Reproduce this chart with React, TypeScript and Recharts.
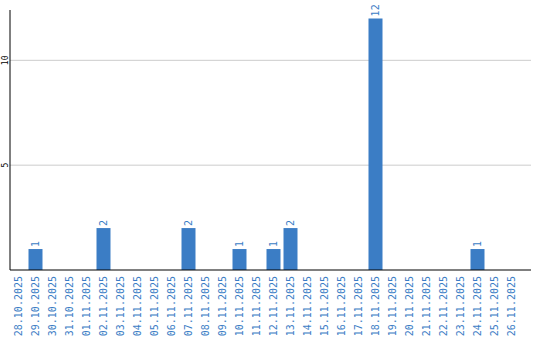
import { BarChart, Bar, XAxis, YAxis, CartesianGrid, LabelList } from 'recharts'

const DATES = [
  '28.10.2025', '29.10.2025', '30.10.2025', '31.10.2025', '01.11.2025',
  '02.11.2025', '03.11.2025', '04.11.2025', '05.11.2025', '06.11.2025',
  '07.11.2025', '08.11.2025', '09.11.2025', '10.11.2025', '11.11.2025',
  '12.11.2025', '13.11.2025', '14.11.2025', '15.11.2025', '16.11.2025',
  '17.11.2025', '18.11.2025', '19.11.2025', '20.11.2025', '21.11.2025',
  '22.11.2025', '23.11.2025', '24.11.2025', '25.11.2025', '26.11.2025',
]

const COUNTS = [
  0, 1, 0, 0, 0,
  2, 0, 0, 0, 0,
  2, 0, 0, 1, 0,
  1, 2, 0, 0, 0,
  0, 12, 0, 0, 0,
  0, 0, 1, 0, 0,
]

const Y_TICKS = [5, 10]

const BLUE = '#3b7dc5'
const FONT = '"DejaVu Sans Mono", monospace'

const data = DATES.map((d, i) => ({ date: d, count: COUNTS[i] }))

function DateTick({ x, y, payload }: any) {
  return (
    <text
      transform={`translate(${x},${y - 2}) rotate(-90)`}
      textAnchor="end"
      dominantBaseline="central"
      fontFamily={FONT}
      fontSize={10}
      fill={BLUE}
    >
      {payload.value}
    </text>
  )
}

function CountTick({ x, y, payload }: any) {
  return (
    <text
      transform={`translate(${x + 3},${y}) rotate(-90)`}
      textAnchor="middle"
      dominantBaseline="central"
      fontFamily={FONT}
      fontSize={8}
      fill="#000"
    >
      {payload.value}
    </text>
  )
}

function ValueLabel({ x, y, width, value }: any) {
  if (!value) return null
  return (
    <text
      transform={`translate(${x + width / 2},${y - 2}) rotate(-90)`}
      textAnchor="start"
      dominantBaseline="central"
      fontFamily={FONT}
      fontSize={10}
      fill={BLUE}
    >
      {value}
    </text>
  )
}

export default function App() {
  return (
    <div style={{ position: 'absolute', left: 0, top: 0, width: 540, height: 340, background: '#fff' }}>
      <BarChart
        width={540}
        height={340}
        data={data}
        margin={{ top: 10, right: 9, bottom: 0, left: 0 }}
        barCategoryGap={1.5}
      >
        <CartesianGrid vertical={false} stroke="#cccccc" syncWithTicks />
        <XAxis
          dataKey="date"
          interval={0}
          height={70}
          padding={{ left: 0, right: 11 }}
          tickLine={false}
          axisLine={{ stroke: '#000' }}
          tick={<DateTick />}
        />
        <YAxis
          width={10}
          domain={[0, 12.4]}
          ticks={Y_TICKS}
          tickLine={false}
          axisLine={{ stroke: '#000' }}
          tick={<CountTick />}
        />
        <Bar dataKey="count" fill={BLUE} isAnimationActive={false}>
          <LabelList dataKey="count" content={<ValueLabel />} />
        </Bar>
      </BarChart>
    </div>
  )
}
